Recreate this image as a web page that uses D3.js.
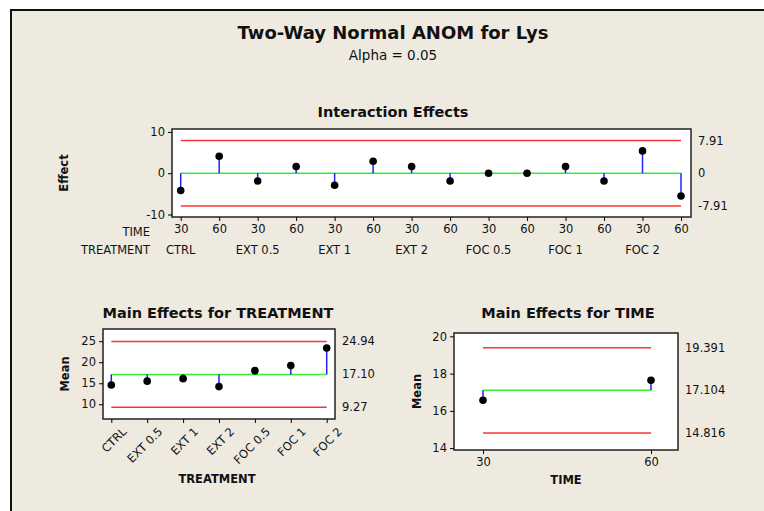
<!DOCTYPE html>
<html>
<head>
<meta charset="utf-8">
<script src="https://cdn.jsdelivr.net/npm/d3@7"></script>
<style>
  body { margin: 0; background: #ffffff; }
  text { font-family: Tahoma, "DejaVu Sans", sans-serif; fill: #111; }
</style>
</head>
<body>
<div id="plot"></div>
<script>
// chart values
var interTime = ["30","60","30","60","30","60","30","60","30","60","30","60","30","60"];
var interTreatment = ["CTRL","EXT 0.5","EXT 1","EXT 2","FOC 0.5","FOC 1","FOC 2"];
var interEffects = [-4.2, 4.1, -1.9, 1.6, -2.9, 2.9, 1.6, -1.9, 0, 0, 1.6, -1.9, 5.4, -5.5];
var interLimits = [-7.91, 0, 7.91];
var interLimitLabels = ["-7.91", "0", "7.91"];

var treatments = ["CTRL","EXT 0.5","EXT 1","EXT 2","FOC 0.5","FOC 1","FOC 2"];
var treatMeans = [14.6, 15.5, 16.1, 14.2, 18.0, 19.2, 23.4];
var treatLimits = [9.27, 17.10, 24.94];
var treatLimitLabels = ["9.27", "17.10", "24.94"];

var times = ["30","60"];
var timeMeans = [16.57, 17.64];
var timeLimits = [14.816, 17.104, 19.391];
var timeLimitLabels = ["14.816", "17.104", "19.391"];

var W = 764, H = 511;
var svg = d3.select("#plot").append("svg").attr("width", W).attr("height", H);

// frame
svg.append("rect").attr("x", 11).attr("y", 10).attr("width", W).attr("height", H)
  .attr("fill", "#eeeae0").attr("stroke", "#111").attr("stroke-width", 2);

svg.append("text").attr("x", 393).attr("y", 39).attr("text-anchor", "middle")
  .style("font-size", "18px").style("font-weight", "bold").text("Two-Way Normal ANOM for Lys");
svg.append("text").attr("x", 393).attr("y", 60).attr("text-anchor", "middle")
  .style("font-size", "13.5px").text("Alpha = 0.05");

function panel(o) {
  var g = svg.append("g");
  g.append("rect").attr("x", o.x0).attr("y", o.y0)
    .attr("width", o.x1 - o.x0).attr("height", o.y1 - o.y0)
    .attr("fill", "#ffffff").attr("stroke", "#222").attr("stroke-width", 1.5);

  var x = d3.scalePoint().domain(d3.range(o.values.length)).range(o.xr);
  var y = d3.scaleLinear().domain(o.yd).range([o.y1, o.y0]);
  var xa = x(0), xb = x(o.values.length - 1);

  // axes
  var ya = g.append("g").attr("transform", "translate(" + o.x0 + ",0)")
    .call(d3.axisLeft(y).tickValues(o.yticks).tickSize(4).tickPadding(3)
      .tickFormat(function(d) { return String(d); }));
  ya.select(".domain").remove();
  ya.selectAll("text").style("font-size", "11.5px").style("font-family", "Tahoma, 'DejaVu Sans', sans-serif");

  var xaG = g.append("g").attr("transform", "translate(0," + o.y1 + ")")
    .call(d3.axisBottom(x).tickSize(4).tickPadding(4).tickFormat(function(i) { return o.xlabels[i]; }));
  xaG.select(".domain").remove();
  xaG.selectAll("text").style("font-size", "11.5px").style("font-family", "Tahoma, 'DejaVu Sans', sans-serif");
  if (o.rotate) {
    xaG.selectAll("text").attr("text-anchor", "end")
      .attr("transform", "translate(4,2) rotate(-45)");
  }

  // limit lines
  o.limits.forEach(function(v, i) {
    g.append("line").attr("x1", xa).attr("x2", xb).attr("y1", y(v)).attr("y2", y(v))
      .attr("stroke", i === 1 ? "#33f033" : "#ff3333").attr("stroke-width", 1.5);
    g.append("text").attr("x", o.x1 + 7).attr("y", y(v)).attr("dy", "0.35em")
      .style("font-size", "11.5px").text(o.limitLabels[i]);
  });

  // stems and points
  g.selectAll(".stem").data(o.values).enter().append("line")
    .attr("x1", function(d, i) { return x(i); }).attr("x2", function(d, i) { return x(i); })
    .attr("y1", y(o.limits[1])).attr("y2", function(d) { return y(d); })
    .attr("stroke", "#2222ff").attr("stroke-width", 1.5);
  g.selectAll(".pt").data(o.values).enter().append("circle")
    .attr("cx", function(d, i) { return x(i); }).attr("cy", function(d) { return y(d); })
    .attr("r", 3.8).attr("fill", "#000");

  g.append("text").attr("x", o.tx).attr("y", o.ty).attr("text-anchor", "middle")
    .style("font-size", "14.5px").style("font-weight", "bold").text(o.title);
  g.append("text").attr("transform", "translate(" + o.ylx + "," + ((o.y0 + o.y1) / 2) + ") rotate(-90)")
    .attr("text-anchor", "middle").style("font-size", "11.5px").style("font-weight", "bold").text(o.ylabel);
  if (o.xlabel) {
    g.append("text").attr("x", o.xlx).attr("y", o.xly).attr("text-anchor", "middle")
      .style("font-size", "11.5px").style("font-weight", "bold").text(o.xlabel);
  }
  return { g: g, x: x, y: y };
}

var interPanel = panel({
  x0: 172, x1: 691, y0: 129, y1: 217, xr: [180.7, 681],
  yd: [-10.6, 10.7], yticks: [-10, 0, 10],
  values: interEffects, xlabels: interTime,
  limits: interLimits, limitLabels: interLimitLabels,
  title: "Interaction Effects", tx: 393, ty: 117,
  ylabel: "Effect", ylx: 68
});
// second row of labels
interPanel.g.append("text").attr("x", 150).attr("y", 236).attr("text-anchor", "end")
  .style("font-size", "11.5px").text("TIME");
interPanel.g.append("text").attr("x", 150).attr("y", 254).attr("text-anchor", "end")
  .style("font-size", "11.5px").text("TREATMENT");
interPanel.g.selectAll(".trt").data(interTreatment).enter().append("text")
  .attr("x", function(d, i) { return interPanel.x(i * 2); }).attr("y", 254)
  .attr("text-anchor", "middle").style("font-size", "11.5px").text(function(d) { return d; });

panel({
  x0: 103, x1: 335, y0: 329, y1: 419, xr: [111.3, 326.7],
  yd: [6.5, 27.9], yticks: [10, 15, 20, 25],
  values: treatMeans, xlabels: treatments, rotate: true,
  limits: treatLimits, limitLabels: treatLimitLabels,
  title: "Main Effects for TREATMENT", tx: 218, ty: 318,
  ylabel: "Mean", ylx: 69, xlabel: "TREATMENT", xlx: 217, xly: 483
});

panel({
  x0: 454, x1: 678, y0: 333, y1: 450, xr: [483, 651],
  yd: [13.9, 20.18], yticks: [14, 16, 18, 20],
  values: timeMeans, xlabels: times,
  limits: timeLimits, limitLabels: timeLimitLabels,
  title: "Main Effects for TIME", tx: 568, ty: 318,
  ylabel: "Mean", ylx: 421, xlabel: "TIME", xlx: 566, xly: 484
});
</script>
</body>
</html>
